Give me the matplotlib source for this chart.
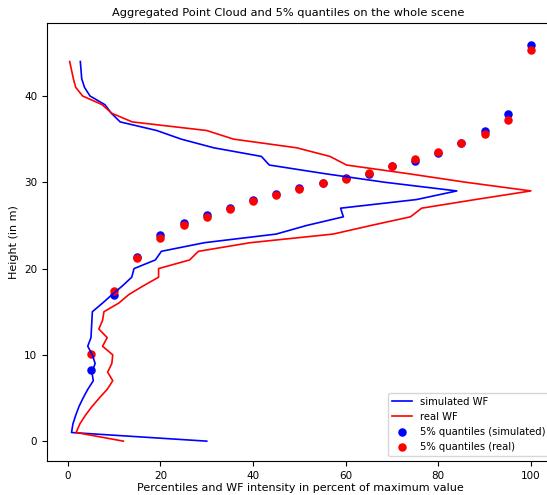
import numpy as np
from matplotlib import pyplot as plt

# heights of the aggregated waveform bins (m)
heights = list(range(45))

# waveform intensity, percent of maximum value
sim_wf = [30.0, 0.8, 1.1, 1.7, 2.4, 3.3, 4.3, 5.5, 5.2, 5.9, 5.3, 4.3, 5.0, 5.1, 5.2,
          5.3, 7.5, 9.6, 11.8, 13.8, 14.3, 18.9, 20.2, 29.5, 45.0, 51.6, 59.5, 58.9,
          75.3, 84.0, 68.5, 55.5, 43.5, 41.8, 31.5, 24.5, 19.2, 11.3, 9.4, 8.0, 4.8,
          3.6, 3.0, 2.85, 2.7]
real_wf = [12.0, 1.8, 2.6, 3.8, 5.2, 6.8, 8.5, 9.7, 8.6, 9.5, 9.7, 7.5, 8.5, 6.7, 7.5,
           7.8, 11.0, 13.2, 16.3, 19.6, 19.6, 26.3, 28.2, 39.4, 57.3, 65.5, 74.0, 76.4,
           88.0, 100.0, 86.0, 73.5, 60.2, 56.6, 49.4, 35.8, 30.0, 13.9, 9.5, 7.4, 3.2,
           1.7, 1.2, 0.8, 0.4]

# 5% quantiles of the point cloud heights
pct = [5, 10, 15, 20, 25, 30, 35, 40, 45, 50, 55, 60, 65, 70, 75, 80, 85, 90, 95, 100]
q_sim = [8.2, 16.9, 21.4, 23.9, 25.25, 26.2, 27.0, 27.95, 28.6, 29.3, 29.95, 30.5,
         30.95, 31.85, 32.45, 33.45, 34.5, 35.9, 37.95, 45.95]
q_real = [10.1, 17.4, 21.2, 23.5, 25.05, 26.0, 26.95, 27.85, 28.55, 29.25, 29.9, 30.4,
          31.1, 31.9, 32.65, 33.5, 34.55, 35.55, 37.2, 45.35]

plt.rcParams['font.size'] = 8

fig = plt.figure(figsize=(5.47, 4.95), dpi=100, facecolor='#ffffff')
# axes run past the right border, like the cropped original
axes = fig.add_axes([0.0859, 0.0687, 0.927, 0.8855])

axes.plot(sim_wf, heights, color='b', lw=1.2, label='simulated WF')
axes.plot(real_wf, heights, color='r', lw=1.2, label='real WF')
axes.scatter(pct, q_sim, color='b', s=26, label='5% quantiles (simulated)')
axes.scatter(pct, q_real, color='r', s=26, label='5% quantiles (real)')

axes.set_xlim(-4.5, 105)
axes.set_ylim(-2.3, 48.5)
axes.set_xticks([0, 20, 40, 60, 80, 100])
axes.set_yticks([0, 10, 20, 30, 40])
axes.tick_params(labelsize=7.5)

# title sits a bit left of the (cropped) axes centre in the original
axes.set_title('Aggregated Point Cloud and 5% quantiles on the whole scene',
               fontsize=8.2, x=0.475, pad=4.5)
axes.set_xlabel('Percentiles and WF intensity in percent of maximum value',
                fontsize=8, labelpad=2)
axes.set_ylabel('Height (in m)', fontsize=8)
axes.legend(loc='lower right', fontsize=7.2)

fig.savefig('out.png', dpi=100)
